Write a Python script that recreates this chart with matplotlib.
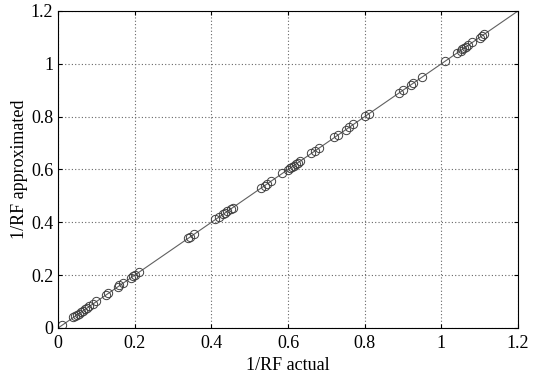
import matplotlib.pyplot as plt

plt.rcParams['font.family'] = ['Liberation Serif', 'DejaVu Serif']

# 1/RF actual
x = [0.01, 0.04, 0.045, 0.05, 0.055, 0.06, 0.065, 0.07, 0.075, 0.08, 0.09, 0.1,
     0.125, 0.13, 0.155, 0.16, 0.17, 0.19, 0.195, 0.2, 0.21,
     0.34, 0.345, 0.355, 0.41, 0.42, 0.43, 0.435, 0.44, 0.45, 0.455,
     0.53, 0.54, 0.545, 0.555, 0.585, 0.6, 0.605, 0.61, 0.615, 0.62, 0.625, 0.63,
     0.66, 0.67, 0.68, 0.72, 0.73, 0.75, 0.76, 0.77, 0.8, 0.81,
     0.89, 0.9, 0.92, 0.925, 0.95,
     1.01, 1.04, 1.05, 1.055, 1.06, 1.065, 1.07, 1.08, 1.1, 1.105, 1.11]
# 1/RF approximated
y = [0.012, 0.042, 0.046, 0.051, 0.054, 0.062, 0.066, 0.071, 0.074, 0.082, 0.091, 0.101,
     0.126, 0.131, 0.154, 0.162, 0.171, 0.191, 0.196, 0.201, 0.212,
     0.339, 0.346, 0.354, 0.411, 0.419, 0.431, 0.436, 0.441, 0.449, 0.456,
     0.531, 0.539, 0.546, 0.556, 0.586, 0.599, 0.606, 0.611, 0.614, 0.621, 0.626, 0.631,
     0.661, 0.669, 0.681, 0.721, 0.729, 0.751, 0.759, 0.771, 0.801, 0.809,
     0.891, 0.899, 0.921, 0.926, 0.951,
     1.009, 1.041, 1.049, 1.056, 1.061, 1.064, 1.071, 1.081, 1.099, 1.106, 1.111]

fig = plt.figure(figsize=(5.33, 3.77), dpi=100)
ax = fig.add_axes([0.109, 0.130, 0.863, 0.841])

ax.plot([0, 1.2], [0, 1.2], '-', color='#606060', linewidth=0.8)
ax.plot(x, y, 'o', markerfacecolor='none', markeredgecolor='#404040',
        markersize=6, markeredgewidth=0.7)

ax.set_xlim(0, 1.2)
ax.set_ylim(0, 1.2)
ticks = [0, 0.2, 0.4, 0.6, 0.8, 1, 1.2]
ticklabels = ['0', '0.2', '0.4', '0.6', '0.8', '1', '1.2']
ax.set_xticks(ticks)
ax.set_xticklabels(ticklabels)
ax.set_yticks(ticks)
ax.set_yticklabels(ticklabels)
ax.tick_params(direction='in', labelsize=13, top=True, right=True, length=3)
ax.tick_params(axis='x', pad=5)
ax.grid(True, linestyle=(0, (1, 2)), color='#666666', linewidth=0.8)

ax.set_xlabel('1/RF actual', fontsize=13, labelpad=4)
ax.set_ylabel('1/RF approximated', fontsize=13, labelpad=2)

fig.savefig('out.png', dpi=100)
